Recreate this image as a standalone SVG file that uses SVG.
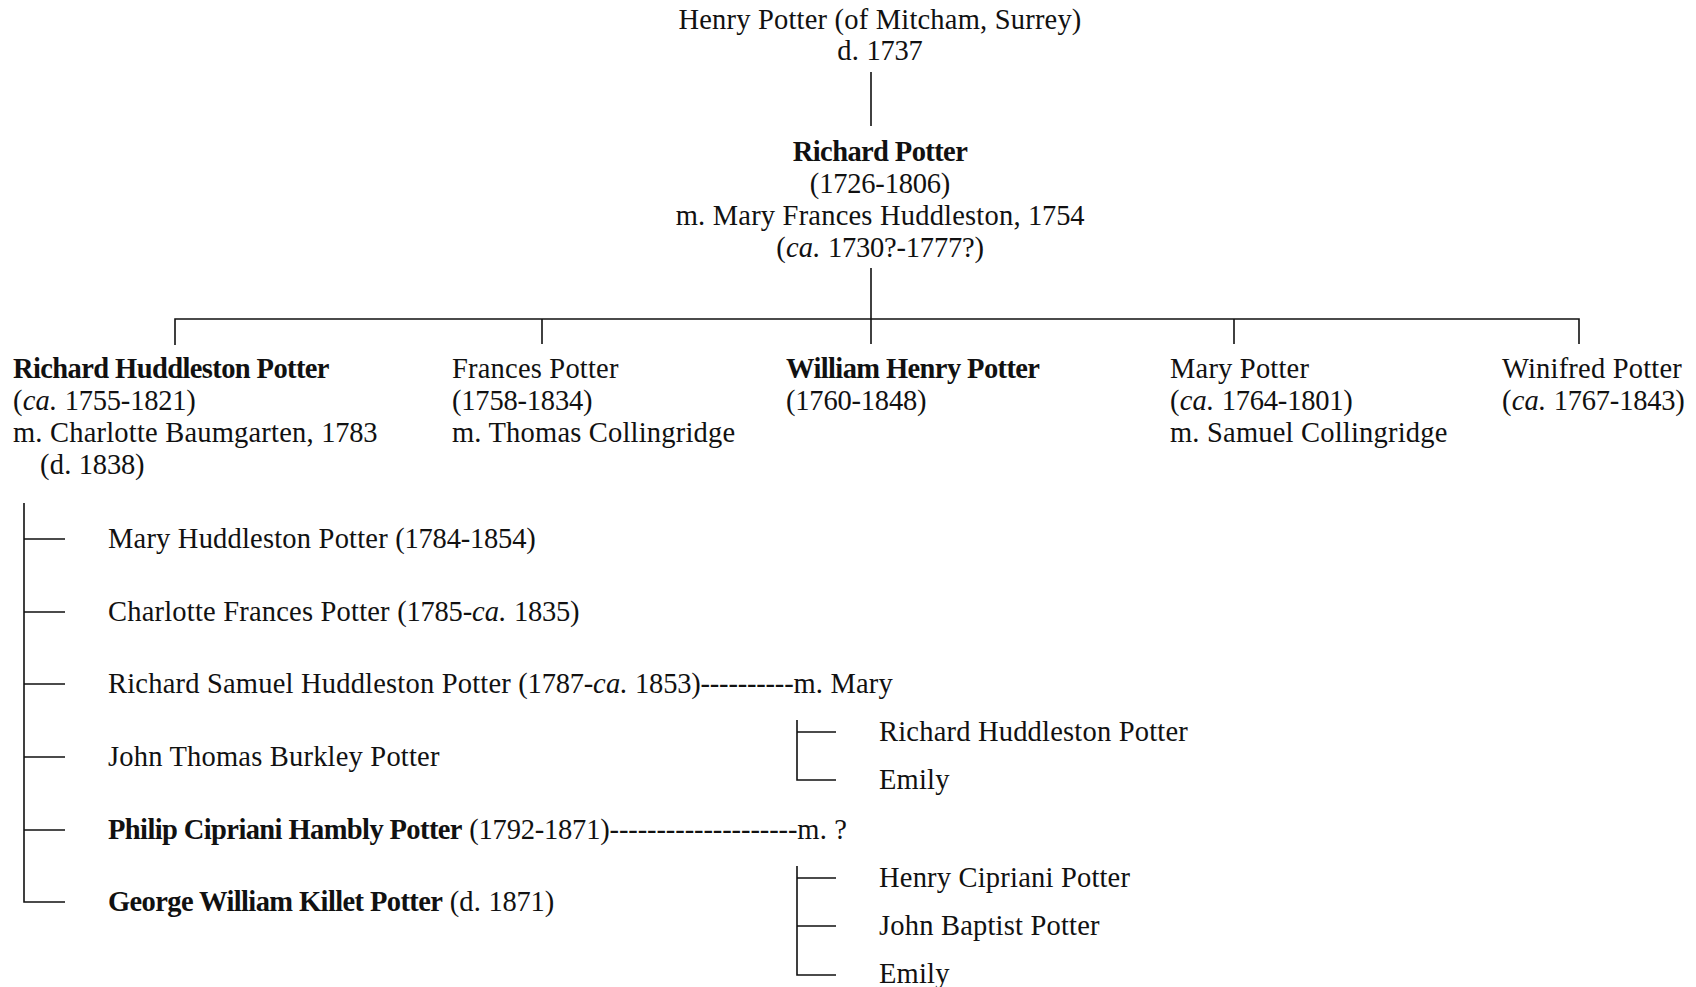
<svg xmlns="http://www.w3.org/2000/svg" width="1696" height="987" viewBox="0 0 1696 987">
<style>
text{font-family:"Liberation Serif","Times New Roman",serif;font-size:28.5px;fill:#111;letter-spacing:0.2px}
.b{font-weight:bold;letter-spacing:-0.6px}
.i{font-style:italic}
.d{letter-spacing:-0.2px}
.c{text-anchor:middle}
.ln{stroke:#111;stroke-width:1.6;fill:none}
</style>
<rect width="1696" height="987" fill="#fff"/>
<g id="connectors" class="ln">
<path d="M871 72V126"/>
<path d="M871 268V319"/>
<path d="M175 345V319H1579V344"/>
<path d="M542 319V344"/>
<path d="M871 319V344"/>
<path d="M1234 319V344"/>
<path d="M24 503V902H65"/>
<path d="M24 539H65M24 612H65M24 684H65M24 757H65M24 830H65"/>
<path d="M797 720V780H836M797 732H836"/>
<path d="M797 866V975H836M797 878H836M797 926H836"/>
</g>
<g id="henry">
<text class="c" x="880" y="29">Henry Potter (of Mitcham, Surrey)</text>
<text class="c" x="880" y="60">d. <tspan class="d">1737</tspan></text>
</g>
<g id="richard">
<text class="c b" x="880" y="161">Richard Potter</text>
<text class="c d" x="880" y="193">(1726-1806)</text>
<text class="c" x="880" y="225">m. Mary Frances Huddleston, <tspan class="d">1754</tspan></text>
<text class="c" x="880" y="257">(<tspan class="i">ca.</tspan> <tspan class="d">1730?-1777?)</tspan></text>
</g>
<g id="richard-huddleston">
<text class="b" x="13" y="378">Richard Huddleston Potter</text>
<text x="13" y="410">(<tspan class="i">ca.</tspan> <tspan class="d">1755-1821)</tspan></text>
<text x="13" y="442">m. Charlotte Baumgarten, <tspan class="d">1783</tspan></text>
<text x="40" y="474">(d. <tspan class="d">1838)</tspan></text>
</g>
<g id="frances">
<text x="452" y="378">Frances Potter</text>
<text class="d" x="452" y="410">(1758-1834)</text>
<text x="452" y="442">m. Thomas Collingridge</text>
</g>
<g id="william-henry">
<text class="b" x="786" y="378">William Henry Potter</text>
<text class="d" x="786" y="410">(1760-1848)</text>
</g>
<g id="mary">
<text x="1170" y="378">Mary Potter</text>
<text x="1170" y="410">(<tspan class="i">ca.</tspan> <tspan class="d">1764-1801)</tspan></text>
<text x="1170" y="442">m. Samuel Collingridge</text>
</g>
<g id="winifred">
<text x="1502" y="378">Winifred Potter</text>
<text x="1502" y="410">(<tspan class="i">ca.</tspan> <tspan class="d">1767-1843)</tspan></text>
</g>
<g id="child-mary">
<text x="108" y="548">Mary Huddleston Potter <tspan class="d">(1784-1854)</tspan></text>
</g>
<g id="child-charlotte">
<text x="108" y="621">Charlotte Frances Potter <tspan class="d">(1785-</tspan><tspan class="i">ca.</tspan> <tspan class="d">1835)</tspan></text>
</g>
<g id="child-richard-samuel">
<text x="108" y="693">Richard Samuel Huddleston Potter <tspan class="d">(1787-</tspan><tspan class="i">ca.</tspan> <tspan class="d">1853)----------</tspan>m. Mary</text>
</g>
<g id="child-john-thomas">
<text x="108" y="766">John Thomas Burkley Potter</text>
</g>
<g id="child-philip">
<text x="108" y="839"><tspan class="b">Philip Cipriani Hambly Potter</tspan> <tspan class="d">(1792-1871)</tspan><tspan style="letter-spacing:-0.1px">--------------------</tspan>m. ?</text>
</g>
<g id="child-george">
<text x="108" y="911"><tspan class="b">George William Killet Potter</tspan> (d. <tspan class="d">1871)</tspan></text>
</g>
<g id="gc-richard-huddleston">
<text x="879" y="741">Richard Huddleston Potter</text>
</g>
<g id="gc-emily-1">
<text x="879" y="789">Emily</text>
</g>
<g id="gc-henry-cipriani">
<text x="879" y="887">Henry Cipriani Potter</text>
</g>
<g id="gc-john-baptist">
<text x="879" y="935">John Baptist Potter</text>
</g>
<g id="gc-emily-2">
<text x="879" y="983">Emily</text>
</g>
</svg>
